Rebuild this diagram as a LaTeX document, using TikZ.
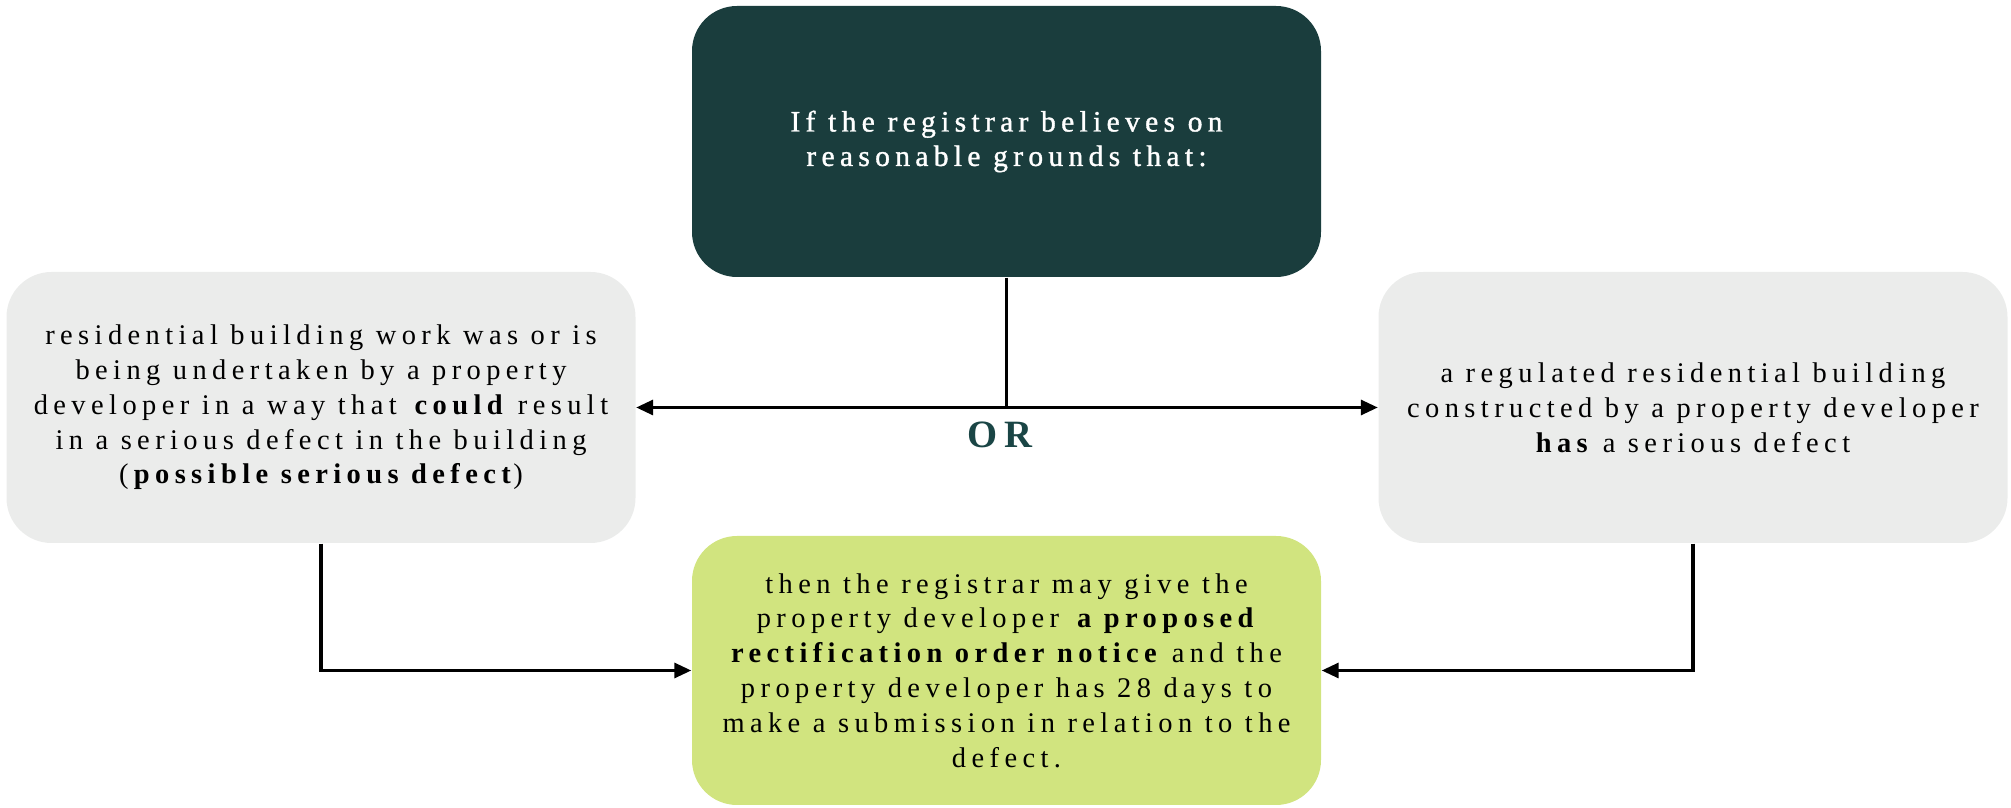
\documentclass[tikz,border=0pt]{standalone}
\usepackage{fontspec}
\setmainfont{Liberation Serif}[LetterSpace=19]
\newfontfamily\headfont{Liberation Serif}[LetterSpace=18, FakeBold=1.2]
\usepackage{tikz}
\usetikzlibrary{arrows.meta, positioning}
\definecolor{deepteal}{HTML}{1A3D3D}
\definecolor{softgrey}{HTML}{EBECEB}
\definecolor{resultgreen}{HTML}{D1E47F}
\definecolor{orteal}{HTML}{1A4545}
\newcommand{\bterm}[1]{\textbf{#1}\kern-0.1em\relax}

\begin{document}
\begin{tikzpicture}[every node/.style={font=\fontsize{8.1}{9.9}\selectfont},
    box/.style={rounded corners=0.45cm, minimum width=6.29cm, minimum height=2.71cm,
                align=center, inner sep=0pt},
    link/.style={line width=0.9pt, -{Triangle[length=0.17cm, width=0.15cm]}}]
  \useasboundingbox (0,0) rectangle (20.11,8.08);
  % Boxes
  \node[box, fill=deepteal, text=white, font=\fontsize{8.4}{9.8}\selectfont\headfont] (cond) at (10.065,6.665)
    {If the registrar believes on\\reasonable grounds that:};
  \node[box, fill=softgrey] (possible) at (3.21,4.005)
    {residential building work was or is\\being undertaken by a property\\
     developer in a way that \bterm{could} result\\in a serious defect in the building\\
     (\bterm{possible serious defect})};
  \node[box, fill=softgrey] (serious) at (16.93,4.005)
    {a regulated residential building\\constructed by a property developer\\
     \bterm{has} a serious defect};
  \node[box, fill=resultgreen, minimum height=2.69cm] (notice) at (10.065,1.375)
    {then the registrar may give the\\property developer \bterm{a proposed}\\
     \bterm{rectification order notice} and the\\property developer has 28 days to\\
     make a submission in relation to the\\defect.};
  % Connectors
  \coordinate (split) at (cond.south |- serious.west);
  \draw[line width=0.9pt] (cond.south) -- (split);
  \draw[link] (split) -- (possible.east);
  \draw[link] (split) -- (serious.west);
  \node[font=\fontsize{11}{13}\selectfont\bfseries, text=orteal] (ortext) at (10.0,3.73) {OR};
  \draw[link] (possible.south) |- (notice.west);
  \draw[link] (serious.south) |- (notice.east);
\end{tikzpicture}
\end{document}
